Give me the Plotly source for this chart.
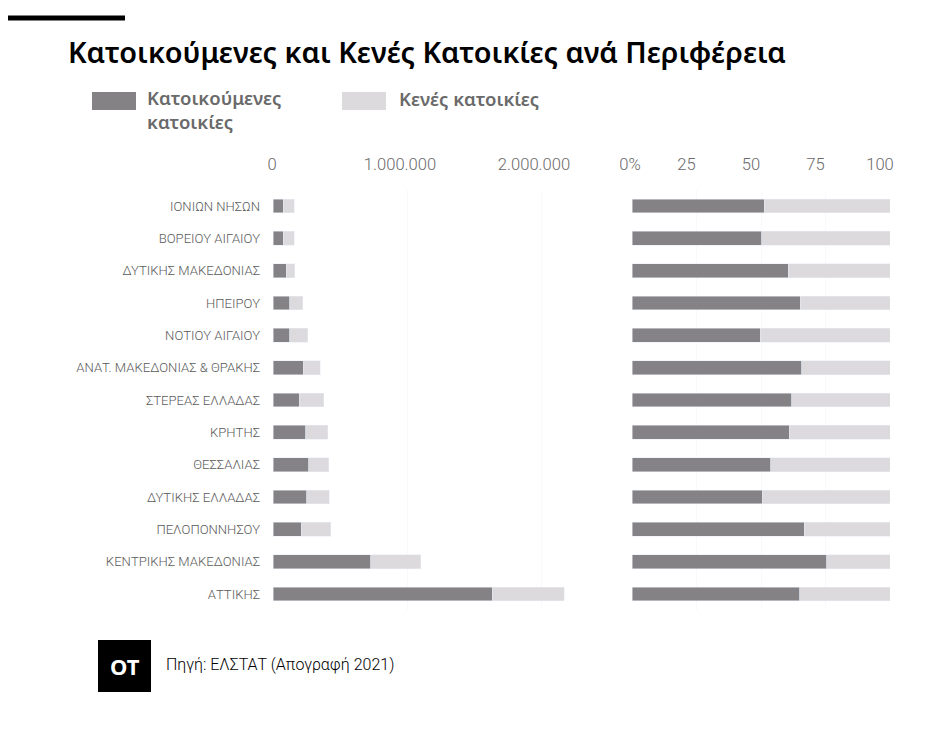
import plotly.graph_objects as go

regions = ["ΙΟΝΙΩΝ ΝΗΣΩΝ", "ΒΟΡΕΙΟΥ ΑΙΓΑΙΟΥ", "ΔΥΤΙΚΗΣ ΜΑΚΕΔΟΝΙΑΣ", "ΗΠΕΙΡΟΥ",
           "ΝΟΤΙΟΥ ΑΙΓΑΙΟΥ", "ΑΝΑΤ. ΜΑΚΕΔΟΝΙΑΣ & ΘΡΑΚΗΣ", "ΣΤΕΡΕΑΣ ΕΛΛΑΔΑΣ", "ΚΡΗΤΗΣ",
           "ΘΕΣΣΑΛΙΑΣ", "ΔΥΤΙΚΗΣ ΕΛΛΑΔΑΣ", "ΠΕΛΟΠΟΝΝΗΣΟΥ", "ΚΕΝΤΡΙΚΗΣ ΜΑΚΕΔΟΝΙΑΣ", "ΑΤΤΙΚΗΣ"]

occupied = [77000, 77000, 97000, 124000, 124000, 224000, 196000, 244000,
            266000, 251000, 209000, 729000, 1637000]
vacant = [83000, 83000, 65000, 98000, 135000, 129000, 182000, 166000,
          150000, 167000, 221000, 375000, 535000]

occupied_pct = [51.2, 50.3, 60.6, 65.2, 49.7, 65.8, 61.9, 60.9, 53.7, 50.5, 66.7, 75.5, 65.1]
vacant_pct = [round(100 - p, 1) for p in occupied_pct]

left_ticks = [0, 1000000, 2000000]
left_ticklabels = ["&nbsp;&nbsp;&nbsp;0", "1.000.000", "2.000.000"]
right_ticks = [0, 25, 50, 75, 100]
right_ticklabels = ["&nbsp;&nbsp;&nbsp;&nbsp;0%", "25", "50", "75", "100"]

title_text = "Κατοικούμενες και Κενές Κατοικίες ανά Περιφέρεια"
legend_name_1 = "Κατοικούμενες<br>κατοικίες"
legend_name_2 = "Κενές κατοικίες"
source_text = "Πηγή: ΕΛΣΤΑΤ (Απογραφή 2021)"

DARK = "#848284"
LIGHT = "#dcdadc"
W, H = 950, 750
OFF = 8  # page body margin

def px(x):
    return (x - OFF) / W

def py(y):
    return 1 - (y - OFF) / H

fig = go.Figure()
bw = 0.43
fig.add_trace(go.Bar(y=regions, x=occupied, orientation="h", marker_color=DARK,
                     width=bw, xaxis="x", yaxis="y", showlegend=False,
                     name="Κατοικούμενες κατοικίες"))
fig.add_trace(go.Bar(y=regions, x=vacant, orientation="h", marker_color=LIGHT,
                     width=bw, xaxis="x", yaxis="y", showlegend=False,
                     name="Κενές κατοικίες"))
fig.add_trace(go.Bar(y=regions, x=occupied_pct, orientation="h", marker_color=DARK,
                     width=bw, xaxis="x2", yaxis="y2", showlegend=False,
                     name="Κατοικούμενες κατοικίες %"))
fig.add_trace(go.Bar(y=regions, x=vacant_pct, orientation="h", marker_color=LIGHT,
                     width=bw, xaxis="x2", yaxis="y2", showlegend=False,
                     name="Κενές κατοικίες %"))

ydom = [py(610.2), py(189.8)]
tickfont = dict(family="Roboto", size=16.6, color="#6a6a6a", weight=300)

fig.update_layout(
    width=W, height=H,
    margin=dict(l=0, r=0, t=0, b=0, pad=0, autoexpand=False),
    paper_bgcolor="white", plot_bgcolor="white",
    barmode="stack", bargap=0.57, showlegend=False,
    xaxis=dict(domain=[px(273), px(575)], range=[0, (575 - 273) / 134 * 1e6],
               side="top", tickvals=left_ticks, ticktext=left_ticklabels,
               tickfont=tickfont, showgrid=True, gridcolor="#f9f9f9",
               zeroline=False, showline=False, ticks="", ticklabelstandoff=15,
               ticklabelshift=-7, automargin=False),
    yaxis=dict(domain=ydom, autorange="reversed", showgrid=False, zeroline=False,
               tickfont=dict(family="Roboto", size=13.1, color="#5a5a5a", weight=300),
               ticks="", ticklabelstandoff=12, automargin=False),
    xaxis2=dict(domain=[px(632), px(890)], range=[0, 100], anchor="y2",
                side="top", tickvals=right_ticks, ticktext=right_ticklabels,
                tickfont=tickfont, showgrid=True, gridcolor="#f9f9f9",
                zeroline=False, showline=False, ticks="", ticklabelstandoff=15,
                ticklabelshift=-10, automargin=False),
    yaxis2=dict(domain=ydom, anchor="x2", autorange="reversed", showgrid=False,
                zeroline=False, showticklabels=False, ticks="", automargin=False),
)

shapes = [
    dict(type="rect", xref="paper", yref="paper", x0=px(7), x1=px(125),
         y0=py(20.5), y1=py(15.5), fillcolor="black", line_width=0),
    dict(type="rect", xref="paper", yref="paper", x0=px(92), x1=px(136),
         y0=py(110), y1=py(92), fillcolor=DARK, line_width=0),
    dict(type="rect", xref="paper", yref="paper", x0=px(342), x1=px(386),
         y0=py(110), y1=py(92), fillcolor=LIGHT, line_width=0),
    dict(type="rect", xref="paper", yref="paper", x0=px(98), x1=px(151),
         y0=py(692), y1=py(640), fillcolor="black", line_width=0),
]
fig.update_layout(shapes=shapes)

legend_font = dict(family="Noto Sans", size=18.5, color="#6a6a6a", weight=600)

def note(text, x, y, font, xanchor="left"):
    return dict(text=text, x=px(x), y=py(y), xref="paper", yref="paper",
                xanchor=xanchor, yanchor="middle", align="left",
                showarrow=False, font=font)

annotations = [
    note(title_text, 66, 52, dict(family="Noto Sans", size=28.8, color="black", weight=600)),
    note(legend_name_1, 145, 109, legend_font),
    note(legend_name_2, 397, 99, legend_font),
    note("<b>OT</b>", 124.5, 666, dict(family="Noto Sans", size=22, color="white"),
         xanchor="center"),
    note(source_text, 164, 664, dict(family="Roboto", size=16, color="black", weight=300)),
]
fig.update_layout(annotations=annotations)

fig.write_html("out.html")
